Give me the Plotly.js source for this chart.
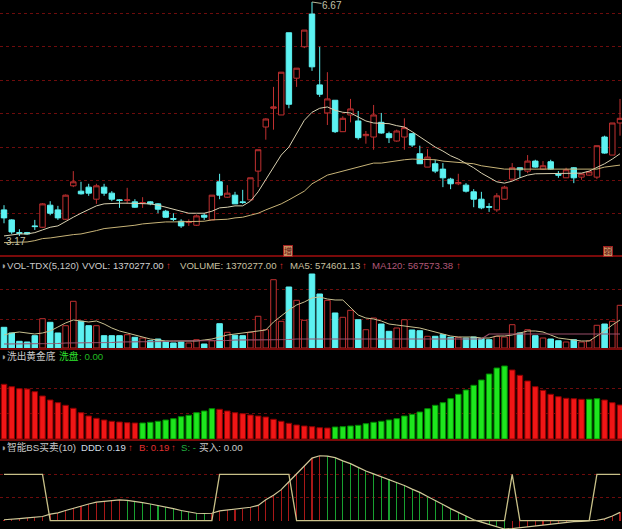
<!DOCTYPE html>
<html><head><meta charset="utf-8">
<script src="https://cdn.plot.ly/plotly-3.0.1.min.js"></script>
<style>html,body{margin:0;padding:0;background:#000;}#chart{width:622px;height:529px;}</style>
</head><body><div id="chart"></div>
<script>
// ---------- data ----------
const openP  = [3.56,3.41,3.22,3.22,3.32,3.30,3.63,3.56,3.42,3.92, 3.84,3.90,3.72,3.90,3.81,3.71,3.70,3.68,3.66,3.68, 3.65,3.54,3.43,3.39,3.37,3.33,3.48,3.41,3.98,3.75, 3.78,3.68,3.71,4.14,4.80,5.08,4.98,6.21,5.53,6.00, 6.49,5.43,5.01,5.20,4.73,4.98,4.89,4.67,4.65,4.87, 4.70,4.59,4.65,4.70,4.40,4.20,4.25,4.17,4.02,3.95, 3.93,3.83,3.72,3.61,3.56,3.72,4.02,4.19,4.14,4.29, 4.17,4.28,4.09,4.04,4.19,4.05,4.08,4.05,4.65,4.38,4.86];
const highP  = [3.63,3.42,3.27,3.23,3.41,3.66,3.69,3.62,3.79,4.14, 3.98,3.95,3.95,3.95,3.84,3.72,3.89,3.72,3.75,3.69, 3.66,3.56,3.51,3.42,3.42,3.49,3.51,3.78,4.10,3.93, 3.83,3.86,4.04,4.46,4.93,5.40,5.62,6.21,5.68,6.25, 6.67,6.00,5.62,5.20,4.96,5.22,5.04,4.74,5.13,5.01, 4.73,4.76,4.93,4.71,4.52,4.47,4.31,4.26,4.04,4.10, 3.96,3.87,3.83,3.66,3.81,3.92,4.26,4.19,4.38,4.31, 4.29,4.31,4.14,4.19,4.20,4.11,4.14,4.52,4.67,4.86,5.22];
const lowP   = [3.36,3.20,3.17,3.19,3.26,3.29,3.48,3.41,3.41,3.90, 3.79,3.77,3.65,3.77,3.69,3.59,3.65,3.59,3.59,3.63, 3.51,3.44,3.39,3.29,3.32,3.32,3.41,3.41,3.72,3.74, 3.65,3.65,3.70,3.90,4.61,4.76,4.98,5.08,5.40,5.98, 5.64,5.25,4.83,4.71,4.73,4.87,4.61,4.55,4.46,4.70, 4.56,4.58,4.46,4.50,4.25,4.20,4.11,3.90,3.87,3.93, 3.82,3.60,3.57,3.53,3.53,3.71,4.01,4.04,4.11,4.19, 4.16,4.16,4.04,4.04,3.96,4.01,4.07,4.02,4.40,4.38,4.67];
const closeP = [3.44,3.23,3.21,3.20,3.31,3.65,3.51,3.44,3.78,3.98, 3.80,3.81,3.92,3.81,3.72,3.70,3.71,3.60,3.67,3.65, 3.57,3.45,3.42,3.32,3.38,3.47,3.45,3.78,3.78,3.81, 3.65,3.67,4.04,4.46,4.92,5.10,5.62,5.14,5.68,6.25, 5.70,5.29,5.22,4.73,4.93,5.07,4.64,4.69,4.98,4.71, 4.64,4.74,4.79,4.53,4.25,4.35,4.14,4.04,3.95,3.97, 3.84,3.72,3.59,3.60,3.77,3.90,4.19,4.16,4.29,4.20, 4.22,4.17,4.08,4.16,4.04,4.10,4.13,4.52,4.41,4.86,4.93];
const maFast = [3.17,3.19,3.20,3.20,3.22,3.26,3.30,3.32,3.39,3.45, 3.51,3.56,3.62,3.65,3.66,3.66,3.66,3.66,3.66,3.65, 3.63,3.60,3.56,3.53,3.51,3.51,3.51,3.54,3.59,3.60, 3.62,3.62,3.69,3.83,4.01,4.19,4.38,4.50,4.71,4.90, 5.02,5.08,5.10,5.05,5.02,5.01,4.95,4.89,4.86,4.86, 4.85,4.82,4.80,4.73,4.65,4.58,4.50,4.44,4.37,4.32, 4.26,4.19,4.11,4.04,3.98,3.96,3.99,4.04,4.08,4.10, 4.10,4.11,4.11,4.11,4.11,4.11,4.14,4.19,4.25,4.32,4.40];
const maSlow = [3.07,3.07,3.08,3.08,3.10,3.13,3.14,3.16,3.17,3.19, 3.20,3.22,3.25,3.28,3.29,3.30,3.32,3.33,3.35,3.36, 3.38,3.38,3.38,3.38,3.38,3.39,3.39,3.41,3.41,3.42, 3.44,3.45,3.48,3.51,3.56,3.60,3.65,3.71,3.77,3.84, 3.95,4.01,4.08,4.11,4.14,4.17,4.20,4.23,4.26,4.26, 4.28,4.29,4.31,4.32,4.32,4.32,4.31,4.29,4.28,4.26, 4.26,4.25,4.22,4.20,4.19,4.17,4.17,4.17,4.17,4.17, 4.17,4.16,4.16,4.16,4.16,4.16,4.16,4.17,4.20,4.22,4.23];
const volume = [664000,482000,215000,193000,395000,941000,825000,482000,716000,1499000, 857000,716000,716000,395000,395000,395000,427000,343000,321000,234000, 289000,215000,161000,193000,161000,266000,128000,234000,780000,504000, 408000,395000,504000,1018000,587000,2192000,857000,1958000,1531000,889000, 2375000,1733000,1531000,1124000,985000,1210000,908000,587000,963000,770000, 536000,642000,908000,578000,555000,376000,376000,427000,343000,343000, 321000,353000,299000,266000,376000,353000,748000,482000,587000,395000, 321000,289000,234000,193000,266000,193000,234000,729000,770000,857000,1370277];
const volMA5 = [417000,482000,514000,482000,449000,482000,546000,674000,803000,899000, 867000,835000,867000,770000,642000,546000,482000,417000,353000,289000, 257000,225000,225000,225000,225000,225000,257000,289000,353000,417000, 449000,482000,514000,546000,578000,835000,1027000,1220000,1380000,1477000, 1605000,1637000,1573000,1541000,1541000,1316000,1059000,963000,931000,867000, 770000,738000,706000,674000,642000,578000,514000,449000,385000,353000, 353000,353000,321000,321000,385000,385000,417000,482000,546000,546000, 514000,417000,321000,289000,257000,225000,225000,385000,546000,738000,899000];
const volMA120 = [128000,128000,128000,128000,128000,144000,144000,144000,161000,161000, 161000,161000,177000,177000,177000,193000,193000,193000,193000,209000, 209000,209000,225000,225000,225000,225000,225000,241000,241000,241000, 257000,257000,257000,257000,257000,273000,273000,273000,289000,289000, 289000,289000,289000,289000,289000,289000,289000,289000,289000,289000, 289000,289000,289000,289000,289000,289000,289000,289000,289000,289000, 289000,289000,289000,449000,449000,449000,449000,449000,449000,449000, 449000,449000,449000,449000,449000,449000,449000,449000,449000,449000,449000];
const washBars = [54.7,52.3,50.3,50.0,47.3,43,39,36.3,33.7,30.7, 26.3,23,20.7,19,17.7,17,16.3,16,16,16.7, 17.7,19,20.3,22.3,23.7,26.3,28,30.3,29.7,28, 26.3,25.3,24,23,22,19.7,17.7,15.7,14,13, 12.3,11.3,11,12,12.3,13,13.7,15.3,16.7,17.7, 19,20.3,23,24.7,27,30.3,33.7,36.3,40.3,44.7, 49,53.7,59,65,71,73,69,63.7,58,52.3, 48.7,44.7,42.3,40.7,40.3,39.7,39.7,40.3,39,36.3,34];
const dddLine = [0.02,0.04,0.045,0.06,0.07,0.09,0.14,0.17,0.22,0.27, 0.31,0.36,0.40,0.42,0.43,0.45,0.44,0.42,0.39,0.36, 0.33,0.29,0.26,0.22,0.19,0.16,0.155,0.16,0.21,0.23, 0.24,0.26,0.29,0.33,0.45,0.55,0.67,0.84,1.02,1.18, 1.35,1.40,1.39,1.36,1.29,1.23,1.15,1.07,1.01,0.95, 0.89,0.82,0.76,0.68,0.61,0.52,0.44,0.35,0.26,0.18, 0.10,0.02,-0.03,-0.08,-0.13,-0.18,-0.17,-0.15,-0.13,-0.11, -0.09,-0.07,-0.05,-0.04,-0.02,-0.015,-0.01,0.01,0.04,0.10,0.18];
const buyStep = [1,1,1,1,1,1,0,0,0,0, 0,0,0,0,0,0,0,0,0,0, 0,0,0,0,0,0,0,0,1,1, 1,1,1,1,1,1,1,1,0,0, 0,0,0,0,0,0,0,0,0,0, 0,0,0,0,0,0,0,0,0,0, 0,0,0,0,0,0,1,0,0,0, 0,0,0,0,0,0,0,1,1,1,1];
const priceGrid = [3.5,4.0,4.5,5.0,5.5,6.0,6.5];
const volGrid = [931000,1894000];
const washGrid = [26,51];
const bsGrid = [0.5,1.0];

// ---------- styling ----------
const RED = '#c03030', CYAN = '#5cf2f2', GRID = '#6e0c0c';
const idx = openP.map((_, i) => i);
const upDay = idx.map(i => closeP[i] >= openP[i]);
const XR = [-0.52, 80.26];
const FONT = 'Liberation Sans, Arial, Noto Sans CJK SC, sans-serif';

const traces = [
  {type:'candlestick', x:idx, open:openP, high:highP, low:lowP, close:closeP,
   xaxis:'x', yaxis:'y', whiskerwidth:0, hoverinfo:'skip',
   increasing:{line:{color:RED,width:1}, fillcolor:'#000000'},
   decreasing:{line:{color:CYAN,width:1}, fillcolor:CYAN}},
  {type:'scatter', mode:'lines', x:idx, y:maFast, xaxis:'x', yaxis:'y', line:{color:'#d8d0b0',width:1}, hoverinfo:'skip'},
  {type:'scatter', mode:'lines', x:idx, y:maSlow, xaxis:'x', yaxis:'y', line:{color:'#c8b478',width:1}, hoverinfo:'skip'},

  {type:'bar', x:idx, y:volume, xaxis:'x2', yaxis:'y2', width:0.72, hoverinfo:'skip',
   marker:{color: upDay.map(u => u ? '#000000' : CYAN), line:{color: upDay.map(u => u ? RED : CYAN), width:1}}},
  {type:'scatter', mode:'lines', x:idx, y:volMA5, xaxis:'x2', yaxis:'y2', line:{color:'#c8c090',width:1}, hoverinfo:'skip'},
  {type:'scatter', mode:'lines', x:idx, y:volMA120, xaxis:'x2', yaxis:'y2', line:{color:'#9a4e6a',width:1.2}, hoverinfo:'skip'},

  {type:'bar', x:idx, y:washBars, xaxis:'x3', yaxis:'y3', width:0.72, hoverinfo:'skip',
   marker:{color: idx.map(i => (i > 0 && washBars[i] >= washBars[i-1]) ? '#1ee61e' : '#f01616'),
           line:{color: idx.map(i => (i > 0 && washBars[i] >= washBars[i-1]) ? '#008a00' : '#8a0000'), width:1}}},

  {type:'bar', x:idx, y:dddLine, xaxis:'x4', yaxis:'y4', width:0.14, hoverinfo:'skip',
   marker:{color: idx.map(i => (i === 0 || dddLine[i] > dddLine[i-1]) ? '#a81818' : '#18a030'), line:{width:0}}},
  {type:'scatter', mode:'lines', x:idx, y:buyStep, xaxis:'x4', yaxis:'y4', line:{color:'#c8c088',width:1.3}, hoverinfo:'skip'},
  {type:'scatter', mode:'lines', x:idx, y:dddLine, xaxis:'x4', yaxis:'y4', line:{color:'#d0c898',width:1.2}, hoverinfo:'skip'}
];

function yAx(domain, range, tickvals) {
  return {domain:domain, range:range, autorange:false, tickvals:tickvals, showticklabels:false,
          showgrid:true, gridcolor:GRID, griddash:'dot', gridwidth:1, zeroline:false, showline:false, fixedrange:true};
}
function xAx(anchor) {
  return {range:XR, autorange:false, visible:false, showgrid:false, zeroline:false, anchor:anchor, fixedrange:true};
}
const H = 529, W = 622;
const py = p => 1 - p / H, px = p => p / W;

function label(text, x, y, color, size) {
  return {xref:'paper', yref:'paper', x:px(x), y:py(y), xanchor:'left', yanchor:'middle',
          text:text, showarrow:false, borderpad:0, font:{family:FONT, size:size || 9.6, color:color}};
}
const ARROW = '#e03030';
const annotations = [
  label('◑', -1, 265, '#a0a0a0'), label('VOL-TDX(5,120)', 6, 265, '#c8c8c8'),
  label('VVOL: 1370277.00', 81, 265, '#d0d0d0'), label('↑', 165, 265, ARROW),
  label('VOLUME: 1370277.00', 179, 265, '#c8c0a0'), label('↑', 278, 265, ARROW),
  label('MA5: 574601.13', 289, 265, '#c8c0a0'), label('↑', 361, 265, ARROW),
  label('MA120: 567573.38', 371, 265, '#b05878'), label('↑', 455, 265, ARROW),

  label('◑', -1, 356, '#a0a0a0'), label('洗出黄金底', 6, 356, '#c8c8c8', 9.7),
  label('洗盘', 58, 356, '#2ee62e', 9.7), label(': 0.00', 78, 356, '#20b820', 9.7),

  label('◑', -1, 447, '#a0a0a0'), label('智能BS买卖(10)', 6, 447, '#c8c8c8', 9.7),
  label('DDD: 0.19', 80, 447, '#d0dce4'), label('↑', 127, 447, ARROW),
  label('B: 0.19', 138, 447, '#e03030'), label('↑', 170, 447, ARROW),
  label('S: -', 180, 447, '#20b040'), label('买入: 0.00', 198, 447, '#c8c8c8', 9.7),

  {xref:'x', yref:'y', x:40, y:6.67, text:'6.67', showarrow:true, arrowhead:0, arrowwidth:1,
   arrowcolor:'#b8b898', ax:20, ay:3, xanchor:'center', yanchor:'middle', borderpad:0,
   font:{family:FONT, size:10, color:'#c0c0a8'}},
  {xref:'x', yref:'y', x:2, y:3.17, text:'3.17', showarrow:false, xshift:-3, yshift:1,
   xanchor:'center', yanchor:'top', borderpad:0, font:{family:FONT, size:10, color:'#c0c0a8'}},

  {xref:'paper', yref:'paper', x:px(288), y:py(251), text:'增', showarrow:false, xanchor:'center', yanchor:'middle',
   bgcolor:'#c89060', bordercolor:'#a02020', borderwidth:1, borderpad:0, font:{family:FONT, size:8, color:'#601010'}},
  {xref:'paper', yref:'paper', x:px(608), y:py(251), text:'弱', showarrow:false, xanchor:'center', yanchor:'middle',
   bgcolor:'#c89060', bordercolor:'#a02020', borderwidth:1, borderpad:0, font:{family:FONT, size:8, color:'#601010'}}
];

function sep(y) {
  return {type:'line', xref:'paper', yref:'paper', x0:0, x1:1, y0:py(y), y1:py(y), line:{color:'#7a0a0a', width:2}, layer:'above'};
}

const layout = {
  width:W, height:H, margin:{l:0,r:0,t:0,b:0,pad:0},
  paper_bgcolor:'#000000', plot_bgcolor:'#000000', showlegend:false,
  bargap:0, barmode:'overlay', boxgap:0.16, boxgroupgap:0.16, boxmode:'overlay',
  xaxis: Object.assign(xAx('y'), {rangeslider:{visible:false}}),
  xaxis2: xAx('y2'), xaxis3: xAx('y3'), xaxis4: xAx('y4'),
  yaxis: yAx([py(256), 1], [2.87, 6.70], priceGrid),
  yaxis2: yAx([py(348), py(258)], [0, 2889000], volGrid),
  yaxis3: yAx([py(439), py(350)], [0, 89], washGrid),
  yaxis4: yAx([0, py(441)], [-0.179, 1.718], bsGrid),
  annotations: annotations,
  shapes: [sep(256), sep(349), sep(440)]
};

Plotly.newPlot('chart', traces, layout, {staticPlot:true, displayModeBar:false});
</script></body></html>
